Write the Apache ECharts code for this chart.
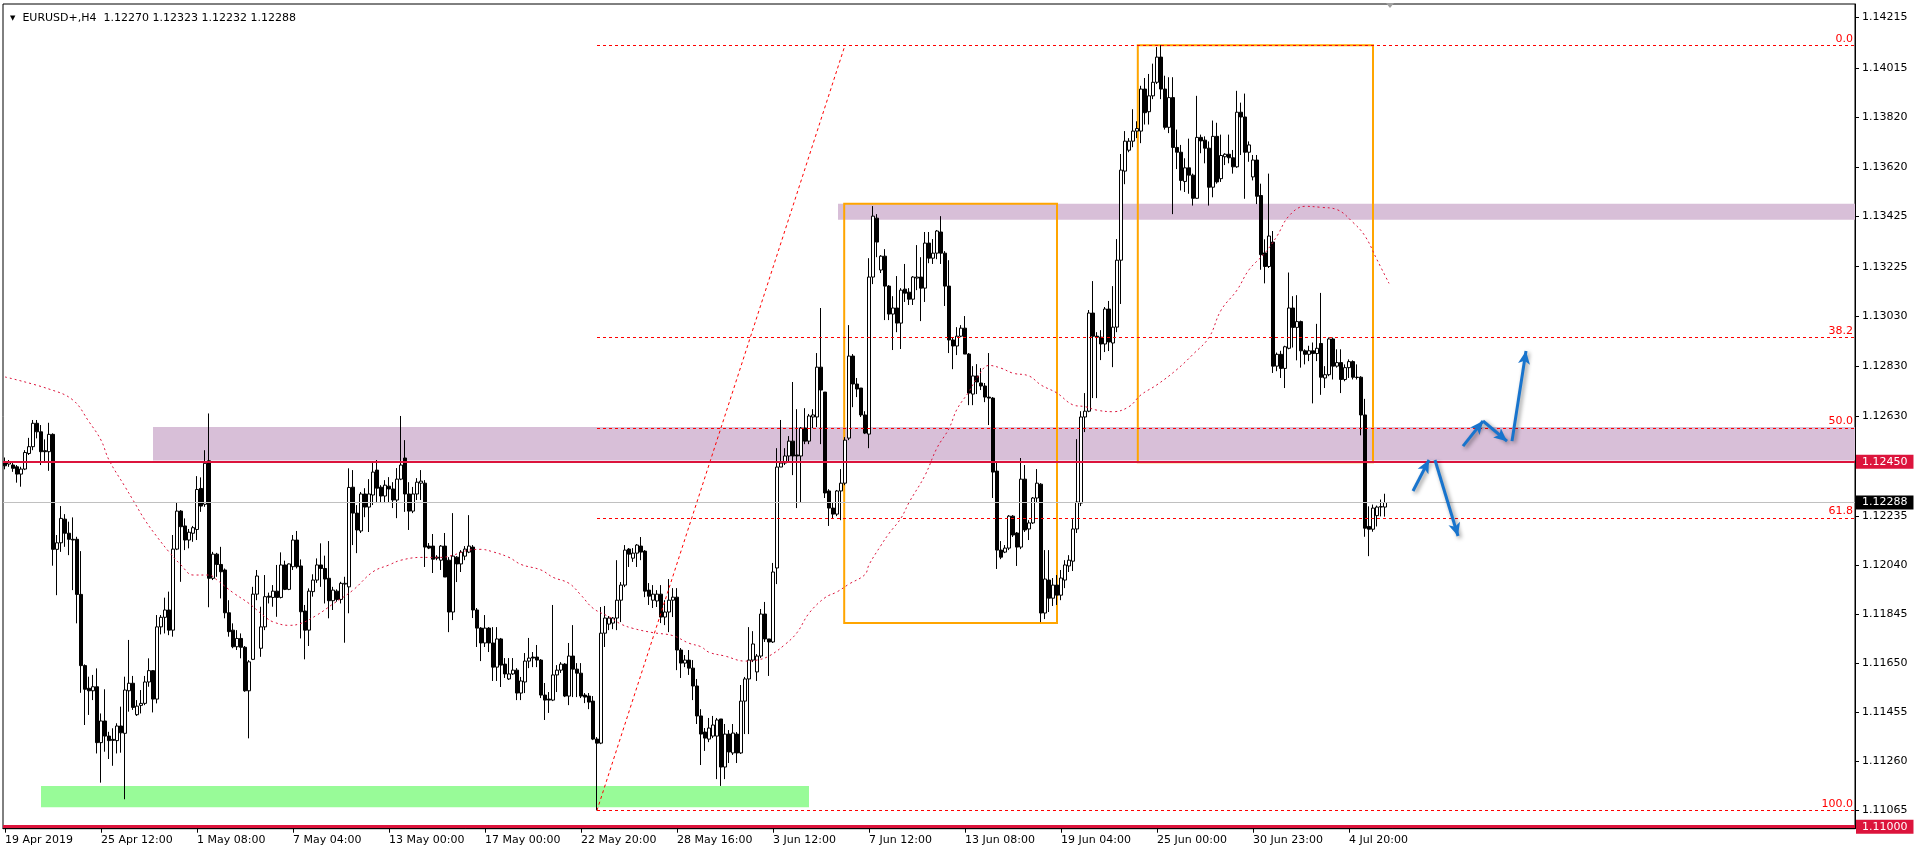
<!DOCTYPE html>
<html><head><meta charset="utf-8">
<script src="https://cdn.jsdelivr.net/npm/echarts@6/dist/echarts.min.js"></script>
<style>html,body{margin:0;padding:0;background:#fff}#c{width:1920px;height:854px}</style>
</head><body><div id="c"></div><script>
const symbolName = 'EURUSD+,H4';
const open = [
1.12450,1.12441,1.12437,1.12430,1.12401,1.12421,1.12483,1.12510,1.12603,1.12569,
1.12494,1.12490,1.12559,1.12102,1.12128,1.12222,1.12166,1.12142,1.12142,1.11923,
1.11640,1.11550,1.11540,1.11556,1.11334,1.11420,1.11360,1.11347,1.11342,1.11400,
1.11371,1.11540,1.11570,1.11445,1.11482,1.11490,1.11575,1.11620,1.11507,1.11794,
1.11832,1.11861,1.11781,1.12103,1.12254,1.12195,1.12139,1.12166,1.12181,1.12344,
1.12281,1.12454,1.11987,1.12083,1.12042,1.12020,1.11850,1.11781,1.11715,1.11748,
1.11713,1.11540,1.11665,1.11924,1.11709,1.11794,1.11916,1.11911,1.11936,1.11911,
1.12040,1.11943,1.12033,1.12139,1.12036,1.11857,1.11781,1.11934,1.11980,1.12040,
1.12026,1.11987,1.11898,1.11936,1.11903,1.11964,1.11953,1.12349,1.12246,1.12175,
1.12322,1.12270,1.12318,1.12417,1.12349,1.12314,1.12353,1.12342,1.12298,1.12381,
1.12465,1.12322,1.12254,1.12322,1.12365,1.12365,1.12115,1.12115,1.12071,1.12059,
1.12115,1.12059,1.11853,1.12071,1.12044,1.12075,1.12091,1.12111,1.11861,1.11789,
1.11730,1.11789,1.11730,1.11634,1.11746,1.11646,1.11587,1.11607,1.11622,1.11531,
1.11575,1.11658,1.11674,1.11674,1.11662,1.11523,1.11507,1.11503,1.11603,1.11622,
1.11646,1.11519,1.11678,1.11626,1.11610,1.11523,1.11519,1.11499,1.11348,1.11332,
1.11769,1.11805,1.11809,1.11829,1.11900,1.11960,1.12103,1.12067,1.12087,1.12115,
1.12095,1.11940,1.11900,1.11897,1.11924,1.11833,1.11853,1.11900,1.11912,1.11702,
1.11650,1.11662,1.11630,1.11559,1.11440,1.11376,1.11348,1.11360,1.11360,1.11428,
1.11237,1.11368,1.11293,1.11368,1.11293,1.11499,1.11587,1.11662,1.11615,1.11678,
1.11845,1.11746,1.11734,1.12028,1.12429,1.12445,1.12473,1.12532,1.12477,1.12473,
1.12584,1.12532,1.12628,1.12628,1.12826,1.12727,1.12334,1.12266,1.12242,1.12334,
1.12365,1.12544,1.12870,1.12759,1.12743,1.12636,1.12560,1.13184,1.13418,1.13212,
1.13267,1.13148,1.13037,1.13061,1.13001,1.13136,1.13124,1.13096,1.13180,1.13184,
1.13140,1.13319,1.13259,1.13279,1.13363,1.13279,1.13148,1.12934,1.12910,1.12949,
1.12981,1.12878,1.12719,1.12791,1.12763,1.12751,1.12707,1.12703,1.12413,1.12099,
1.12091,1.12107,1.12234,1.12167,1.12111,1.12381,1.12183,1.12207,1.12306,1.12361,
1.11849,1.11980,1.11908,1.11960,1.11920,1.11980,1.12036,1.12055,1.12183,1.12286,
1.12628,1.12651,1.13041,1.12949,1.12945,1.12918,1.13057,1.12922,1.12985,1.13251,
1.13605,1.13688,1.13724,1.13764,1.13764,1.13931,1.13841,1.13904,1.13958,1.14058,
1.13931,1.13779,1.13897,1.13699,1.13680,1.13564,1.13618,1.13589,1.13497,1.13739,
1.13728,1.13696,1.13541,1.13743,1.13575,1.13662,1.13672,1.13658,1.13622,1.13839,
1.13820,1.13680,1.13582,1.13649,1.13508,1.13280,1.13226,1.13323,1.12830,1.12877,
1.12821,1.12901,1.13061,1.12984,1.13007,1.12891,1.12877,1.12891,1.12880,1.12920,
1.12783,1.12796,1.12938,1.12830,1.12844,1.12777,1.12824,1.12848,1.12786,1.12786,
1.12636,1.12193,1.12182,1.12236,1.12270,1.12270];
const high = [
1.12467,1.12457,1.12450,1.12437,1.12430,1.12496,1.12545,1.12616,1.12616,1.12596,
1.12539,1.12605,1.12563,1.12159,1.12274,1.12242,1.12212,1.12229,1.12152,1.12095,
1.11645,1.11596,1.11603,1.11629,1.11450,1.11546,1.11377,1.11391,1.11411,1.11477,
1.11596,1.11742,1.11599,1.11503,1.11543,1.11599,1.11669,1.11622,1.11841,1.11841,
1.11910,1.11934,1.12159,1.12287,1.12258,1.12225,1.12183,1.12195,1.12393,1.12388,
1.12496,1.12642,1.12092,1.12088,1.12112,1.12026,1.11900,1.11808,1.11781,1.11768,
1.11718,1.11662,1.11953,1.12020,1.11874,1.12000,1.11930,1.11960,1.12040,1.12090,
1.12057,1.12046,1.12159,1.12175,1.12062,1.11881,1.11947,1.12003,1.12066,1.12126,
1.12077,1.12135,1.11953,1.11943,1.11973,1.11993,1.12424,1.12417,1.12278,1.12330,
1.12345,1.12381,1.12449,1.12457,1.12357,1.12377,1.12389,1.12369,1.12425,1.12632,
1.12536,1.12369,1.12350,1.12385,1.12417,1.12377,1.12127,1.12163,1.12079,1.12119,
1.12167,1.12071,1.12246,1.12075,1.12099,1.12115,1.12238,1.12119,1.11869,1.11793,
1.11841,1.11793,1.11793,1.11793,1.11750,1.11670,1.11670,1.11670,1.11630,1.11595,
1.11690,1.11750,1.11694,1.11722,1.11666,1.11571,1.11535,1.11881,1.11642,1.11654,
1.11650,1.11730,1.11801,1.11650,1.11650,1.11531,1.11531,1.11519,1.11356,1.11873,
1.11877,1.11837,1.11833,1.12059,1.11972,1.12119,1.12107,1.12107,1.12123,1.12151,
1.12099,1.11968,1.11960,1.11940,1.11960,1.11900,1.11984,1.11948,1.11948,1.11710,
1.11682,1.11702,1.11662,1.11587,1.11467,1.11392,1.11432,1.11440,1.11432,1.11428,
1.11408,1.11384,1.11408,1.11376,1.11563,1.11595,1.11793,1.11777,1.11686,1.11865,
1.11893,1.11746,1.12048,1.12504,1.12616,1.12504,1.12552,1.12767,1.12659,1.12588,
1.12663,1.12640,1.12659,1.12882,1.13061,1.12727,1.12341,1.12290,1.12338,1.12421,
1.12548,1.12993,1.12878,1.12783,1.12743,1.12651,1.13259,1.13466,1.13434,1.13271,
1.13295,1.13152,1.13108,1.13188,1.13140,1.13236,1.13140,1.13188,1.13311,1.13263,
1.13363,1.13363,1.13335,1.13371,1.13426,1.13287,1.13251,1.12945,1.12985,1.12993,
1.13029,1.12882,1.12830,1.12838,1.12822,1.12763,1.12882,1.12707,1.12453,1.12135,
1.12119,1.12238,1.12238,1.12171,1.12465,1.12437,1.12218,1.12310,1.12421,1.12365,
1.12099,1.12099,1.11988,1.12000,1.12020,1.12059,1.12079,1.12222,1.12540,1.12651,
1.12723,1.13053,1.13168,1.12965,1.12973,1.13065,1.13089,1.13148,1.13335,1.13673,
1.13764,1.13736,1.13851,1.13803,1.13944,1.13975,1.13991,1.14032,1.14098,1.14105,
1.13984,1.13978,1.13978,1.13770,1.13709,1.13656,1.13734,1.13595,1.13904,1.13750,
1.13743,1.13723,1.13806,1.13797,1.13750,1.13676,1.13750,1.13689,1.13924,1.13877,
1.13913,1.13723,1.13669,1.13669,1.13555,1.13334,1.13595,1.13367,1.12884,1.12891,
1.12911,1.13202,1.13108,1.13112,1.13011,1.12897,1.12911,1.12924,1.12998,1.13121,
1.12830,1.12944,1.12944,1.12897,1.12897,1.12837,1.12857,1.12853,1.12837,1.12790,
1.12700,1.12273,1.12280,1.12276,1.12300,1.12323];
const low = [
1.12420,1.12430,1.12410,1.12367,1.12351,1.12417,1.12477,1.12496,1.12543,1.12437,
1.12450,1.12414,1.12037,1.11920,1.12092,1.12112,1.12079,1.11940,1.11808,1.11532,
1.11404,1.11444,1.11503,1.11291,1.11175,1.11298,1.11269,1.11242,1.11291,1.11294,
1.11109,1.11457,1.11464,1.11440,1.11450,1.11483,1.11556,1.11454,1.11490,1.11764,
1.11768,1.11761,1.11755,1.12099,1.11973,1.12099,1.12106,1.12132,1.12139,1.12251,
1.12271,1.11872,1.11980,1.11993,1.11907,1.11828,1.11755,1.11709,1.11702,1.11669,
1.11536,1.11351,1.11662,1.11900,1.11675,1.11781,1.11887,1.11874,1.11834,1.11907,
1.11940,1.11940,1.12020,1.12026,1.11748,1.11665,1.11718,1.11914,1.11969,1.11953,
1.11887,1.11828,1.11861,1.11894,1.11887,1.11731,1.11848,1.12119,1.12087,1.12167,
1.12230,1.12171,1.12278,1.12286,1.12290,1.12286,1.12290,1.12266,1.12226,1.12377,
1.12251,1.12179,1.12246,1.12298,1.12298,1.12032,1.12103,1.12008,1.12059,1.12020,
1.11992,1.11773,1.11821,1.11972,1.12012,1.12059,1.12087,1.11829,1.11714,1.11658,
1.11714,1.11694,1.11579,1.11579,1.11555,1.11591,1.11583,1.11603,1.11503,1.11503,
1.11531,1.11630,1.11634,1.11634,1.11511,1.11424,1.11452,1.11499,1.11535,1.11611,
1.11515,1.11483,1.11515,1.11515,1.11511,1.11491,1.11467,1.11344,1.11065,1.11328,
1.11714,1.11781,1.11785,1.11781,1.11813,1.11952,1.12032,1.12052,1.12032,1.12059,
1.11912,1.11881,1.11869,1.11873,1.11809,1.11801,1.11773,1.11833,1.11622,1.11591,
1.11634,1.11603,1.11503,1.11408,1.11245,1.11301,1.11336,1.11352,1.11189,1.11162,
1.11189,1.11253,1.11285,1.11253,1.11289,1.11368,1.11368,1.11654,1.11579,1.11670,
1.11734,1.11599,1.11730,1.11964,1.12429,1.12437,1.12453,1.12397,1.12266,1.12290,
1.12520,1.12520,1.12584,1.12588,1.12520,1.12306,1.12195,1.12226,1.12234,1.12218,
1.12357,1.12536,1.12667,1.12707,1.12628,1.12560,1.12504,1.13156,1.13263,1.13200,
1.13013,1.13013,1.12894,1.12965,1.12898,1.13085,1.13073,1.13073,1.13132,1.13009,
1.13085,1.13239,1.13236,1.13255,1.13236,1.13069,1.12882,1.12818,1.12874,1.12945,
1.12878,1.12675,1.12675,1.12719,1.12735,1.12687,1.12596,1.12306,1.12024,1.12063,
1.12087,1.12099,1.12151,1.12036,1.12103,1.12171,1.12139,1.12203,1.12290,1.11813,
1.11825,1.11853,1.11877,1.11881,1.11900,1.11948,1.12012,1.12016,1.12167,1.12274,
1.12568,1.12647,1.12703,1.12703,1.12854,1.12886,1.12890,1.12826,1.12965,1.13077,
1.13553,1.13680,1.13700,1.13736,1.13716,1.13790,1.13790,1.13891,1.13951,1.13891,
1.13770,1.13756,1.13434,1.13613,1.13528,1.13522,1.13515,1.13468,1.13495,1.13676,
1.13636,1.13468,1.13501,1.13555,1.13562,1.13629,1.13636,1.13595,1.13618,1.13669,
1.13495,1.13642,1.13568,1.13474,1.13213,1.13159,1.13220,1.12803,1.12810,1.12783,
1.12743,1.12897,1.12904,1.12853,1.12824,1.12837,1.12850,1.12682,1.12850,1.12716,
1.12743,1.12790,1.12777,1.12824,1.12723,1.12770,1.12783,1.12777,1.12777,1.12555,
1.12152,1.12075,1.12172,1.12193,1.12233,1.12232];
const close = [
1.12434,1.12449,1.12424,1.12401,1.12421,1.12487,1.12510,1.12603,1.12569,1.12490,
1.12490,1.12559,1.12102,1.12128,1.12225,1.12166,1.12142,1.12139,1.11923,1.11640,
1.11546,1.11540,1.11556,1.11334,1.11420,1.11360,1.11342,1.11343,1.11400,1.11373,
1.11543,1.11570,1.11474,1.11479,1.11490,1.11575,1.11620,1.11507,1.11794,1.11832,
1.11861,1.11781,1.12103,1.12254,1.12192,1.12139,1.12170,1.12188,1.12340,1.12274,
1.12444,1.11987,1.12083,1.12042,1.12013,1.11850,1.11775,1.11715,1.11748,1.11713,
1.11540,1.11655,1.11924,1.11996,1.11794,1.11914,1.11912,1.11936,1.11911,1.12040,
1.11943,1.12044,1.12139,1.12033,1.11854,1.11781,1.11936,1.11980,1.12040,1.12026,
1.11984,1.11898,1.11940,1.11903,1.11967,1.11967,1.12348,1.12246,1.12179,1.12322,
1.12270,1.12322,1.12409,1.12345,1.12314,1.12357,1.12342,1.12298,1.12381,1.12437,
1.12322,1.12254,1.12322,1.12369,1.12373,1.12111,1.12107,1.12063,1.12067,1.12115,
1.11992,1.11853,1.12075,1.12044,1.12091,1.12103,1.12115,1.11861,1.11789,1.11730,
1.11789,1.11730,1.11634,1.11746,1.11642,1.11607,1.11607,1.11622,1.11531,1.11579,
1.11658,1.11670,1.11670,1.11662,1.11523,1.11503,1.11503,1.11603,1.11622,1.11646,
1.11519,1.11678,1.11626,1.11610,1.11519,1.11515,1.11495,1.11348,1.11332,1.11769,
1.11829,1.11829,1.11829,1.11900,1.11960,1.12099,1.12083,1.12087,1.12119,1.12091,
1.11936,1.11916,1.11924,1.11924,1.11833,1.11853,1.11900,1.11912,1.11702,1.11650,
1.11662,1.11630,1.11559,1.11440,1.11368,1.11352,1.11392,1.11404,1.11424,1.11237,
1.11368,1.11297,1.11372,1.11293,1.11499,1.11587,1.11662,1.11726,1.11678,1.11845,
1.11746,1.11734,1.12012,1.12429,1.12445,1.12473,1.12532,1.12473,1.12473,1.12584,
1.12532,1.12632,1.12636,1.12826,1.12735,1.12326,1.12266,1.12242,1.12334,1.12365,
1.12536,1.12870,1.12759,1.12739,1.12636,1.12564,1.13184,1.13426,1.13323,1.13267,
1.13148,1.13037,1.13061,1.13001,1.13132,1.13120,1.13096,1.13184,1.13184,1.13140,
1.13319,1.13259,1.13279,1.13367,1.13279,1.13148,1.12934,1.12910,1.12949,1.12981,
1.12878,1.12723,1.12791,1.12767,1.12751,1.12707,1.12703,1.12409,1.12099,1.12071,
1.12107,1.12234,1.12159,1.12111,1.12381,1.12179,1.12207,1.12306,1.12365,1.11849,
1.11984,1.11908,1.11960,1.11920,1.11988,1.12040,1.12059,1.12183,1.12290,1.12628,
1.12651,1.13041,1.12949,1.12945,1.12918,1.13057,1.12926,1.12985,1.13251,1.13609,
1.13724,1.13724,1.13764,1.13774,1.13931,1.13837,1.13904,1.13958,1.14058,1.13931,
1.13779,1.13897,1.13699,1.13680,1.13568,1.13618,1.13589,1.13497,1.13739,1.13725,
1.13696,1.13541,1.13743,1.13562,1.13667,1.13672,1.13658,1.13622,1.13839,1.13820,
1.13680,1.13709,1.13649,1.13505,1.13273,1.13226,1.13347,1.12830,1.12877,1.12821,
1.12907,1.13061,1.12984,1.13007,1.12891,1.12877,1.12891,1.12880,1.12901,1.12786,
1.12796,1.12938,1.12830,1.12844,1.12777,1.12824,1.12848,1.12786,1.12785,1.12636,
1.12186,1.12182,1.12266,1.12270,1.12272,1.12288];

const timeTicks = [0,24,48,72,96,120,144,168,192,216,240,264,288,312,336];
const timeLabels = ['19 Apr 2019','25 Apr 12:00','1 May 08:00','7 May 04:00','13 May 00:00','17 May 00:00','22 May 20:00','28 May 16:00','3 Jun 12:00','7 Jun 12:00','13 Jun 08:00','19 Jun 04:00','25 Jun 00:00','30 Jun 23:00','4 Jul 20:00'];
const priceTicks = [1.11065,1.11260,1.11455,1.11650,1.11845,1.12040,1.12235,1.12630,1.12830,1.13030,1.13225,1.13425,1.13620,1.13820,1.14015,1.14215];

const maBars = [0,11,17,21,24,26,30,32,35,38,41,44,47,51,53,57,61,65,67,71,74,78,82,87,92,96,99,104,109,112,116,119,122,126,129,134,137,141,144,147,151,154,157,162,167,171,174,176,180,185,188,191,195,198,201,205,208,211,215,216,219,221,224,226,230,233,236,238,241,243,246,249,252,256,259,263,267,270,273,277,281,284,288,293,297,301,304,308,311,315,318,321,325,329,333,337,340,343,346];
const maValues = [1.12787,1.12739,1.12695,1.12609,1.12536,1.12457,1.12351,1.12298,1.12218,1.12152,1.12092,1.12040,1.12000,1.12000,1.11980,1.11930,1.11887,1.11834,1.11814,1.11800,1.11808,1.11841,1.11885,1.11940,1.12013,1.12040,1.12059,1.12070,1.12070,1.12079,1.12099,1.12102,1.12092,1.12070,1.12042,1.12020,1.11991,1.11967,1.11920,1.11868,1.11834,1.11805,1.11788,1.11771,1.11759,1.11729,1.11715,1.11693,1.11678,1.11658,1.11662,1.11678,1.11724,1.11771,1.11848,1.11910,1.11933,1.11964,1.12002,1.12041,1.12118,1.12165,1.12226,1.12288,1.12396,1.12505,1.12582,1.12659,1.12729,1.12783,1.12833,1.12822,1.12802,1.12791,1.12755,1.12723,1.12676,1.12669,1.12655,1.12649,1.12669,1.12716,1.12756,1.12817,1.12877,1.12944,1.13052,1.13132,1.13213,1.13280,1.13347,1.13427,1.13465,1.13461,1.13452,1.13401,1.13347,1.13253,1.13159];

const fibLow = 1.11065, fibHigh = 1.14105, fibStartBar = 148, fibEndBar = 210;
const fibLevels = [0, 38.2, 50, 61.8, 100];
const redLevels = [1.12450, 1.11000];
const redWidths = [2, 3];
const bidPrice = 1.12288;

// zones: [fromBar, toBar, lowPrice, highPrice]
const purpleZones = [[37, 462.5, 1.12455, 1.12588], [208.25, 462.5, 1.13412, 1.13475]];
const greenZones = [[9, 201, 1.11077, 1.11162]];
const orangeBoxes = [[209.8, 263, 1.11809, 1.13475], [283.2, 342, 1.12448, 1.14105]];
// arrows: [fromBar, fromPrice, toBar, toPrice]
const arrows = [[352, 1.12334, 356, 1.12457],[357.5, 1.12457, 363.25, 1.12155],[364.5, 1.12512, 369.5, 1.12612],[369.5, 1.12612, 375.5, 1.12532],[376.75, 1.12532, 380.25, 1.12890]];

const FONT = 'DejaVu Sans';
const X_MIN = -0.5, X_MAX = 462.5;
const last = open.length - 1;
const candles = open.map((o, i) => [i, o, close[i], low[i], high[i]]);

const zoneAreas = [];
purpleZones.forEach(z => zoneAreas.push([{coord:[z[0], z[3]], itemStyle:{color:'#D8BFD8'}}, {coord:[z[1], z[2]]}]));
greenZones.forEach(z => zoneAreas.push([{coord:[z[0], z[3]], itemStyle:{color:'#98FB98'}}, {coord:[z[1], z[2]]}]));
const boxAreas = orangeBoxes.map(b => [{coord:[b[0], b[3]], itemStyle:{color:'rgba(0,0,0,0)', borderColor:'#FFA500', borderWidth:2}}, {coord:[b[1], b[2]]}]);

const fibRange = fibHigh - fibLow;
const fibLines = fibLevels.map(lv => {
  const p = fibHigh - fibRange * lv / 100;
  return [{coord:[fibStartBar, p], label:{show:true, position:'insideEndTop', formatter: lv.toFixed(1), color:'#FF0000', fontFamily:FONT, fontSize:11, distance:[2,1]}}, {coord:[X_MAX, p]}];
});
fibLines.push([{coord:[fibStartBar, fibLow], label:{show:false}}, {coord:[fibEndBar, fibHigh]}]);

const levelLines = redLevels.map((v, i) => [
  {coord:[X_MIN, v], lineStyle: {color:'#DC143C', width: redWidths[i], type:'solid'},
   label: {show:true, position:'end', formatter: v.toFixed(5), color:'#fff', backgroundColor:'#DC143C', padding:[2,6,1,6], distance:1, fontFamily:FONT, fontSize:11}},
  {coord:[X_MAX, v]}
]);
const bidLine = [[
  {coord:[X_MIN, bidPrice], lineStyle: {color:'#C0C0C0', width:1, type:'solid'},
   label: {show:true, position:'end', formatter: bidPrice.toFixed(5), color:'#fff', backgroundColor:'#000', padding:[2,6,1,6], distance:1, fontFamily:FONT, fontSize:11}},
  {coord:[X_MAX, bidPrice]}
]];
const arrowLines = arrows.map(a => [{coord:[a[0], a[1]]}, {coord:[a[2], a[3]]}]);

const header = `{tri|\u25BC}  ${symbolName}  ${open[last].toFixed(5)} ${high[last].toFixed(5)} ${low[last].toFixed(5)} ${close[last].toFixed(5)}`;

const chart = echarts.init(document.getElementById('c'), null, {renderer:'canvas', width:1920, height:854});
chart.setOption({
  animation: false,
  backgroundColor: '#fff',
  title: {
    text: header, left: 5, top: 8,
    textStyle: {fontFamily: FONT, fontSize: 11, fontWeight: 'normal', color: '#000',
      rich: {tri: {fontSize: 7, fontFamily: FONT, color: '#000'}}}
  },
  grid: {left: 3, right: 65, top: 4, bottom: 25.3, show: true, borderColor: '#000', borderWidth: 1, backgroundColor: '#fff'},
  xAxis: {
    type: 'value', min: X_MIN, max: X_MAX,
    axisLine: {show: true, onZero: false, lineStyle: {color: '#000', width: 1}},
    axisTick: {show: true, customValues: timeTicks, length: 4, lineStyle: {color: '#000'}},
    axisLabel: {customValues: timeTicks, formatter: v => timeLabels[timeTicks.indexOf(v)] || '', align: 'left', margin: 6, color: '#000', fontFamily: FONT, fontSize: 11},
    splitLine: {show: false}
  },
  yAxis: {
    type: 'value', position: 'right', min: 1.10992, max: 1.14269,
    axisLine: {show: true, onZero: false, lineStyle: {color: '#000', width: 1}},
    axisTick: {show: true, customValues: priceTicks, length: 4, lineStyle: {color: '#000'}},
    axisLabel: {customValues: priceTicks, formatter: v => v.toFixed(5), margin: 7, color: '#000', fontFamily: FONT, fontSize: 11},
    splitLine: {show: false}
  },
  series: [
    { type: 'line', data: [], z: 1, silent: true,
      markArea: {silent: true, label: {show: false}, data: zoneAreas.concat(boxAreas)} },
    { type: 'line', data: [], z: 2, silent: true,
      markLine: {silent: true, symbol: 'none', precision: 5, animation: false, label: {show: false}, data: bidLine} },
    { type: 'candlestick', z: 3, barWidth: 3, data: candles,
      dimensions: ['bar','open','close','lowest','highest'],
      encode: {x: 'bar', y: ['open','close','lowest','highest']},
      itemStyle: {color: '#ffffff', color0: '#000000', borderColor: '#000000', borderColor0: '#000000', borderWidth: 1} },
    { type: 'line', z: 4, data: maBars.map((b, i) => [b, maValues[i]]), smooth: 0.4, showSymbol: false, silent: true,
      lineStyle: {color: '#DC143C', width: 1, type: [2, 3]} },
    { type: 'line', data: [], z: 5, silent: true,
      markLine: {silent: true, symbol: 'none', precision: 5, animation: false, label: {show: false},
        lineStyle: {color: '#FF0000', width: 1, type: [3, 3]}, data: fibLines} },
    { type: 'line', data: [], z: 6, silent: true,
      markLine: {silent: true, symbol: 'none', precision: 5, animation: false, label: {show: false}, data: levelLines} },
    { type: 'line', data: [], z: 7, silent: true,
      markLine: {silent: true, symbol: ['none','arrow'], symbolSize: [9, 13], precision: 5, animation: false, label: {show: false},
        lineStyle: {color: '#1874CD', width: 3, type: 'solid', shadowBlur: 4, shadowColor: 'rgba(0,0,0,0.45)', shadowOffsetX: 2, shadowOffsetY: 2},
        data: arrowLines} }
  ],
  graphic: [{type: 'polygon', shape: {points: [[1386, 3], [1394, 3], [1390, 8]]}, style: {fill: '#A0A0A0'}, silent: true}]
});
</script></body></html>
